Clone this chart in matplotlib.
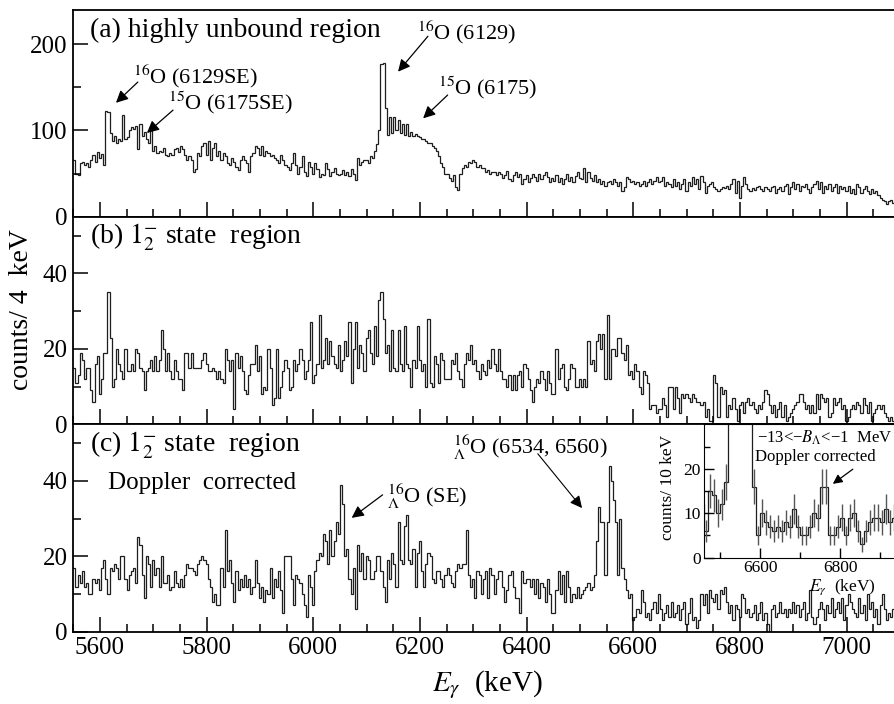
import numpy as np
import matplotlib.pyplot as plt
from matplotlib.ticker import MultipleLocator, FixedLocator

plt.rcParams['font.family'] = 'serif'
plt.rcParams['font.serif'] = ['Liberation Serif']
plt.rcParams['mathtext.fontset'] = 'stix'

# ---- data: counts per 4 keV bin, starting at 5550 keV (one row = 100 keV) ----
e_start = 5550
bin_w = 4

counts_a = [
    66, 50, 48, 62, 64, 60, 62, 58, 66, 72, 64, 75, 68, 73, 60, 122, 121, 97, 88, 93, 85, 90, 88, 118, 90,  # 5550
    92, 100, 104, 102, 105, 78, 108, 94, 98, 90, 85, 104, 76, 82, 74, 76, 75, 80, 72, 70, 74, 72, 78, 80, 75,  # 5650
    82, 78, 72, 66, 70, 66, 52, 55, 74, 70, 82, 85, 72, 88, 66, 80, 85, 70, 76, 66, 74, 70, 62, 60, 68,  # 5750
    64, 58, 54, 66, 70, 66, 62, 52, 70, 74, 82, 80, 72, 82, 70, 76, 74, 70, 72, 68, 66, 62, 72, 66, 60,  # 5850
    58, 54, 62, 74, 60, 50, 58, 70, 52, 47, 64, 58, 50, 62, 55, 46, 50, 48, 62, 55, 47, 52, 56, 50, 48,  # 5950
    50, 54, 48, 52, 47, 55, 50, 43, 68, 60, 64, 66, 66, 62, 70, 68, 76, 84, 101, 177, 178, 126, 95, 116, 97,  # 6050
    116, 100, 112, 97, 108, 95, 107, 93, 98, 94, 96, 93, 92, 90, 90, 88, 86, 85, 82, 80, 76, 70, 62, 58, 50,  # 6150
    50, 45, 42, 48, 35, 31, 50, 56, 60, 58, 64, 62, 66, 64, 58, 60, 56, 57, 52, 54, 50, 52, 52, 48, 52,  # 6250
    50, 45, 48, 53, 44, 42, 48, 52, 46, 50, 38, 44, 48, 40, 45, 50, 46, 42, 50, 44, 48, 52, 46, 40, 45,  # 6350
    42, 48, 40, 45, 38, 44, 50, 42, 46, 40, 47, 52, 45, 44, 56, 40, 52, 45, 42, 48, 40, 44, 38, 42, 36,  # 6450
    40, 42, 38, 44, 40, 36, 40, 30, 34, 46, 44, 40, 42, 38, 40, 36, 38, 42, 36, 40, 44, 38, 41, 46, 40,  # 6550
    42, 46, 36, 40, 38, 34, 44, 36, 40, 32, 38, 44, 30, 40, 36, 46, 38, 44, 32, 47, 40, 28, 36, 38, 40,  # 6650
    34, 32, 30, 32, 34, 33, 36, 32, 38, 44, 28, 42, 22, 36, 46, 38, 32, 30, 33, 31, 34, 36, 32, 30, 34,  # 6750
    32, 30, 34, 36, 28, 32, 34, 30, 36, 38, 26, 34, 40, 32, 38, 30, 36, 34, 38, 32, 28, 34, 38, 42, 32,  # 6850
    40, 28, 36, 32, 38, 30, 34, 38, 28, 36, 32, 34, 30, 36, 28, 32, 26, 38, 34, 28, 32, 36, 30, 26, 32,  # 6950
    28, 30, 25, 22, 20, 18, 15, 18, 20, 16,  # 7050
]

counts_b = [
    15, 11, 13, 19, 17, 12, 15, 15, 9, 6, 16, 18, 8, 12, 19, 19, 35, 23, 10, 12, 20, 16, 14, 12, 20,
    14, 14, 16, 14, 20, 19, 15, 14, 9, 14, 15, 17, 14, 18, 14, 17, 25, 20, 14, 19, 14, 12, 17, 14, 12,
    12, 9, 19, 19, 15, 19, 15, 15, 15, 15, 17, 19, 16, 14, 14, 15, 14, 12, 14, 12, 11, 20, 17, 14, 17,
    4, 19, 15, 18, 14, 9, 8, 13, 16, 16, 21, 14, 18, 8, 10, 9, 20, 15, 5, 7, 20, 7, 10, 14, 17,
    15, 9, 10, 17, 14, 16, 20, 17, 12, 14, 17, 27, 11, 13, 16, 29, 15, 17, 23, 16, 22, 18, 16, 15, 21,
    14, 17, 22, 18, 27, 11, 20, 27, 15, 21, 19, 14, 23, 25, 19, 16, 26, 18, 33, 35, 28, 19, 21, 14, 25,
    15, 14, 25, 16, 14, 26, 16, 15, 10, 17, 15, 26, 17, 14, 16, 10, 28, 11, 10, 18, 16, 11, 19, 17, 12,
    12, 12, 17, 16, 19, 14, 12, 10, 16, 19, 17, 21, 16, 17, 14, 12, 16, 14, 13, 17, 15, 20, 16, 14, 20,
    14, 12, 12, 10, 13, 9, 13, 9, 13, 14, 10, 16, 15, 12, 9, 6, 10, 12, 11, 14, 12, 9, 14, 11, 8,
    8, 20, 12, 15, 16, 10, 9, 12, 16, 15, 10, 10, 12, 10, 12, 10, 22, 16, 17, 14, 22, 24, 20, 24, 12,
    29, 12, 20, 20, 18, 23, 23, 19, 17, 21, 13, 14, 12, 16, 14, 10, 8, 14, 13, 11, 4, 5, 5, 3, 4,
    4, 7, 5, 2, 10, 10, 4, 10, 7, 3, 8, 7, 8, 7, 6, 8, 7, 6, 6, 5, 6, 2, 4, 1, 1,
    13, 11, 2, 10, 8, 9, 2, 5, 4, 7, 4, 1, 5, 6, 3, 6, 7, 5, 6, 4, 3, 5, 4, 6, 9,
    8, 5, 3, 5, 2, 4, 6, 2, 5, 1, 2, 3, 4, 5, 6, 8, 8, 6, 4, 5, 3, 5, 3, 8, 4,
    8, 7, 6, 7, 2, 3, 7, 5, 6, 7, 4, 5, 1, 2, 4, 5, 4, 6, 5, 3, 7, 5, 3, 6, 1,
    3, 4, 5, 4, 5, 3, 2, 1, 2, 1,
]

counts_c = [
    17, 12, 15, 13, 16, 12, 13, 10, 10, 14, 13, 14, 11, 17, 19, 14, 10, 17, 16, 18, 17, 14, 20, 20, 14,
    11, 15, 16, 17, 13, 25, 23, 15, 9, 20, 18, 12, 19, 15, 17, 12, 20, 13, 13, 15, 11, 12, 16, 13, 12,
    14, 12, 15, 18, 17, 17, 16, 15, 18, 19, 20, 19, 18, 14, 12, 8, 10, 7, 7, 17, 12, 27, 16, 19, 13,
    8, 16, 11, 14, 12, 15, 12, 14, 10, 12, 19, 13, 9, 12, 8, 11, 10, 17, 9, 14, 12, 16, 11, 5, 20,
    20, 20, 14, 7, 15, 14, 13, 10, 7, 4, 15, 12, 7, 16, 19, 21, 20, 26, 24, 18, 27, 20, 24, 29, 26,
    39, 34, 20, 22, 14, 10, 17, 6, 23, 16, 21, 14, 20, 19, 14, 14, 16, 20, 20, 16, 12, 8, 19, 14, 21,
    18, 12, 29, 19, 18, 28, 31, 19, 18, 22, 12, 21, 24, 16, 12, 18, 21, 20, 14, 13, 16, 16, 14, 12, 15,
    17, 15, 13, 12, 16, 18, 17, 18, 18, 27, 15, 12, 14, 9, 16, 15, 10, 14, 16, 9, 17, 15, 10, 14, 16,
    16, 12, 8, 11, 15, 16, 12, 9, 9, 5, 16, 13, 14, 14, 12, 14, 10, 14, 9, 13, 12, 8, 14, 10, 5,
    5, 11, 16, 10, 15, 8, 16, 12, 8, 10, 9, 12, 9, 10, 11, 12, 13, 11, 12, 15, 24, 33, 29, 29, 15,
    29, 44, 40, 35, 29, 15, 30, 17, 14, 11, 9, 10, 3, 4, 6, 5, 11, 8, 4, 5, 3, 6, 8, 5, 10,
    6, 3, 5, 7, 4, 8, 4, 5, 7, 3, 6, 8, 2, 5, 9, 3, 4, 1, 3, 10, 7, 10, 5, 11, 9,
    8, 10, 6, 11, 10, 12, 8, 5, 7, 3, 7, 6, 4, 10, 9, 5, 6, 4, 5, 7, 3, 5, 8, 3, 5,
    2, 0, 6, 7, 4, 5, 8, 5, 6, 4, 6, 5, 8, 5, 7, 4, 6, 8, 3, 5, 11, 4, 2, 4, 6,
    8, 6, 3, 7, 5, 9, 4, 6, 8, 5, 9, 3, 7, 10, 8, 6, 5, 4, 9, 5, 7, 3, 10, 6, 8,
    4, 6, 2, 7, 10, 6, 3, 5, 4, 6,
]

# inset: counts per 10 keV, starting at 6450 keV
inset_start = 6450
inset_w = 10
inset_counts = [12, 6, 15, 14, 10, 12, 17, 45, 80, 110,
                120, 90, 45, 16, 5, 10, 8, 7, 6, 7,
                6, 8, 7, 11, 7, 5, 5, 7, 10, 9,
                16, 16, 5, 5, 7, 9, 5, 9, 10, 6,
                3, 6, 8, 9, 9, 8, 11, 8, 9]

panel_titles = ['(a) highly unbound region',
                r'(b) $1^{-}_{2}$ state  region',
                r'(c) $1^{-}_{2}$ state  region']

W, H = 894, 704
fig = plt.figure(figsize=(W / 100, H / 100), dpi=100)


def px_axes(x0, y0, x1, y1):
    return fig.add_axes([x0 / W, 1 - y1 / H, (x1 - x0) / W, (y1 - y0) / H])


line_col = '#1e1e1e'
left = 73.3
tops = [9.5, 216.8, 424.3, 631.8]
all_counts = [counts_a, counts_b, counts_c]
ylims = [240, 55, 55]
ymajor = [100, 20, 20]

axes = []
for i in range(3):
    ax = px_axes(left, tops[i], W, tops[i + 1])
    counts = np.array(all_counts[i])
    edges = e_start + bin_w * np.arange(len(counts) + 1)
    ax.stairs(counts, edges, baseline=None, color=line_col, lw=0.9)
    ax.set_xlim(5550, 7089)
    ax.set_ylim(0, ylims[i])
    ax.xaxis.set_major_locator(MultipleLocator(200))
    ax.xaxis.set_minor_locator(MultipleLocator(50))
    ax.yaxis.set_major_locator(MultipleLocator(ymajor[i]))
    ax.yaxis.set_minor_locator(MultipleLocator(ymajor[i] / 2))
    ax.tick_params(which='both', direction='in', top=False, right=False, width=1.1,
                   labelsize=18, pad=4)
    ax.tick_params(which='major', length=11)
    ax.tick_params(which='minor', length=6)
    ax.spines['right'].set_visible(False)
    for s in ['left', 'top', 'bottom']:
        ax.spines[s].set_linewidth(1.3)
    if i < 2:
        ax.tick_params(labelbottom=False)
    ax.text(5581, ylims[i] * 0.9, panel_titles[i], fontsize=20, ha='left', va='center')
    axes.append(ax)

ax_a, ax_b, ax_c = axes

arrow = dict(arrowstyle='-|>', color='black', lw=0.9, mutation_scale=18,
             shrinkA=0, shrinkB=0)
ann = 16

# panel (a) labels and arrows
ax_a.text(5662, 163, r'$^{16}$O (6129SE)', fontsize=ann, ha='left', va='center')
ax_a.annotate('', xy=(5630, 132), xytext=(5671, 156), arrowprops=arrow)
ax_a.text(5728, 132, r'$^{15}$O (6175SE)', fontsize=ann, ha='left', va='center')
ax_a.annotate('', xy=(5688, 97), xytext=(5737, 123.5), arrowprops=arrow)
ax_a.text(6194, 214, r'$^{16}$O (6129)', fontsize=ann, ha='left', va='center')
ax_a.annotate('', xy=(6159, 168), xytext=(6215, 209), arrowprops=arrow)
ax_a.text(6234, 149, r'$^{15}$O (6175)', fontsize=ann, ha='left', va='center')
ax_a.annotate('', xy=(6206, 114), xytext=(6252, 141), arrowprops=arrow)

# panel (c) labels and arrows
ax_c.text(5615, 39.5, 'Doppler  corrected', fontsize=18, ha='left', va='center')
ax_c.text(6138, 36, r'${}^{16}_{\Lambda}$O (SE)', fontsize=ann, ha='left', va='center')
ax_c.annotate('', xy=(6072, 30.2), xytext=(6130, 36.3), arrowprops=arrow)
ax_c.text(6262, 49, r'${}^{16}_{\Lambda}$O (6534, 6560)', fontsize=ann, ha='left', va='center')
ax_c.annotate('', xy=(6504, 32.8), xytext=(6421, 47.2), arrowprops=dict(arrow, lw=0.8))

fig.text(22 / W, 1 - 310 / H, 'counts/ 4  keV', rotation=90, fontsize=20,
         ha='center', va='center')
fig.text(487 / W, 1 - 685 / H, r'$E_{\gamma}$  (keV)', fontsize=21, ha='center', va='center')

# ---- inset ----
ins = px_axes(703.7, 424.3, W, 557.7)
ins.set_facecolor('white')
ic = np.array(inset_counts)
iedges = inset_start + inset_w * np.arange(len(ic) + 1)
icent = iedges[:-1] + inset_w / 2
ins.errorbar(icent, ic, yerr=np.sqrt(ic), fmt='none', ecolor='#555555', elinewidth=1.0)
ins.stairs(ic, iedges, baseline=None, color=line_col, lw=0.9)
ins.set_xlim(6458, 6934)
ins.set_ylim(0, 30)
ins.xaxis.set_major_locator(MultipleLocator(200))
ins.xaxis.set_minor_locator(MultipleLocator(100))
ins.yaxis.set_major_locator(FixedLocator([0, 10, 20]))
ins.yaxis.set_minor_locator(FixedLocator([5, 15, 25]))
ins.tick_params(which='both', direction='in', top=False, right=False, width=1.0,
                labelsize=12.5, pad=2)
ins.tick_params(which='major', length=7)
ins.tick_params(which='minor', length=4)
ins.spines['right'].set_visible(False)
ins.text(6591, 26.9, '\u221213<\u2212$B_{\\Lambda}$<\u22121  MeV', fontsize=12,
         ha='left', va='center')
ins.text(6586, 22.7, 'Doppler corrected', fontsize=12, ha='left', va='center')
ins.annotate('', xy=(6781, 16.6), xytext=(6831, 19.9),
             arrowprops=dict(arrow, mutation_scale=14))
fig.text(668 / W, 1 - 487 / H, 'counts/ 10 keV', rotation=90, fontsize=12.5,
         ha='center', va='center')
fig.text(842 / W, 1 - 587 / H, r'$E_{\gamma}$  (keV)', fontsize=12.5, ha='center', va='center')

fig.savefig('out.png', dpi=100)
